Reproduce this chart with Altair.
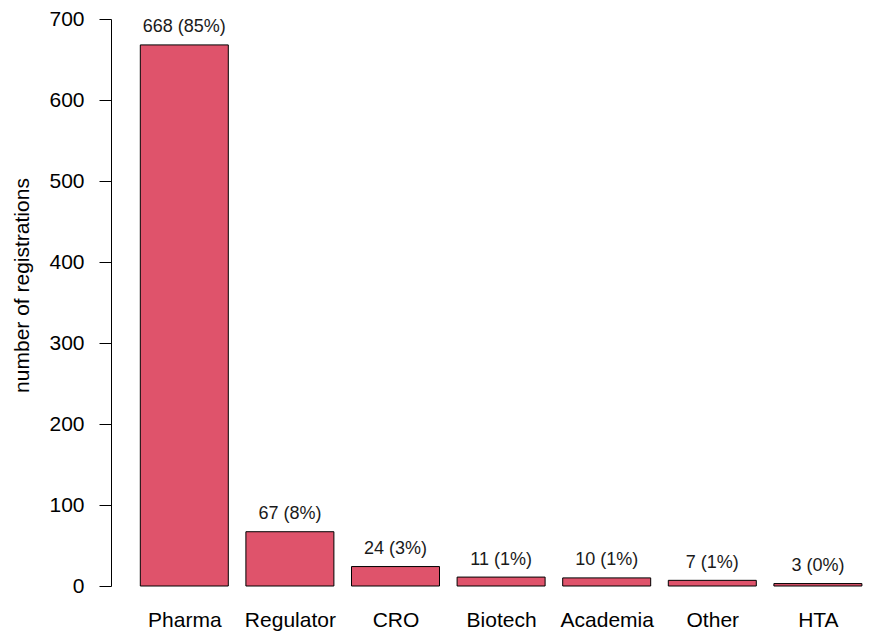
import altair as alt
import pandas as pd

categories = ["Pharma", "Regulator", "CRO", "Biotech", "Academia", "Other", "HTA"]
counts = [668, 67, 24, 11, 10, 7, 3]
percents = [85, 8, 3, 1, 1, 1, 0]

bar_width = 1.0
space = 0.2
left = [space + k * (bar_width + space) for k in range(len(categories))]
right = [l + bar_width for l in left]
centers = [l + bar_width / 2 for l in left]

df = pd.DataFrame({
    "category": categories,
    "count": counts,
    "label": [f"{c} ({p}%)" for c, p in zip(counts, percents)],
    "x0": left,
    "x1": right,
    "xc": centers,
})

FONT = "Liberation Sans"
label_expr = "[" + ",".join(f"'{c}'" for c in categories) + "][round((datum.value - 0.7) / 1.2)]"

xscale = alt.Scale(domain=[-0.133, 8.4125], nice=False, zero=False)
yscale = alt.Scale(domain=[0, 700], nice=False)

bars = alt.Chart(df).mark_bar(
    color="#DF536B", stroke="#000000", strokeWidth=1
).encode(
    x=alt.X("x0:Q", scale=xscale, axis=alt.Axis(
        values=centers, labelExpr=label_expr, domain=False, ticks=False, tickSize=0,
        grid=False, title=None, labelFont=FONT, labelFontSize=21, labelColor="#000000",
        labelBaseline="alphabetic", labelPadding=40, labelFlush=False, labelOverlap=False)),
    x2="x1:Q",
    y=alt.Y("count:Q", scale=yscale, axis=alt.Axis(
        values=[0, 100, 200, 300, 400, 500, 600, 700], grid=False,
        title="number of registrations", titleFont=FONT, titleFontSize=21,
        titleFontWeight="normal", titleColor="#000000", titleAngle=270,
        titleBaseline="middle", titleAlign="center", titleX=-89, titleY=266,
        labelFont=FONT, labelFontSize=21, labelColor="#000000", labelPadding=15,
        tickSize=12, tickColor="#000000", domainColor="#000000",
        labelFlush=False, labelOverlap=False)),
    y2=alt.datum(0),
)

texts = alt.Chart(df).mark_text(
    font=FONT, fontSize=18, color="#1a1a1a", baseline="alphabetic", dy=-12.5
).encode(
    x=alt.X("xc:Q", scale=xscale),
    y=alt.Y("count:Q", scale=yscale),
    text="label:N",
)

chart = alt.layer(bars, texts).properties(
    width=752, height=567,
    autosize=alt.AutoSizeParams(type="none"),
    padding={"left": 103, "top": 11, "right": 0, "bottom": 47},
).configure(background="white").configure_view(stroke=None)

chart.save("out.html", embed_options={"renderer": "svg", "actions": False})
